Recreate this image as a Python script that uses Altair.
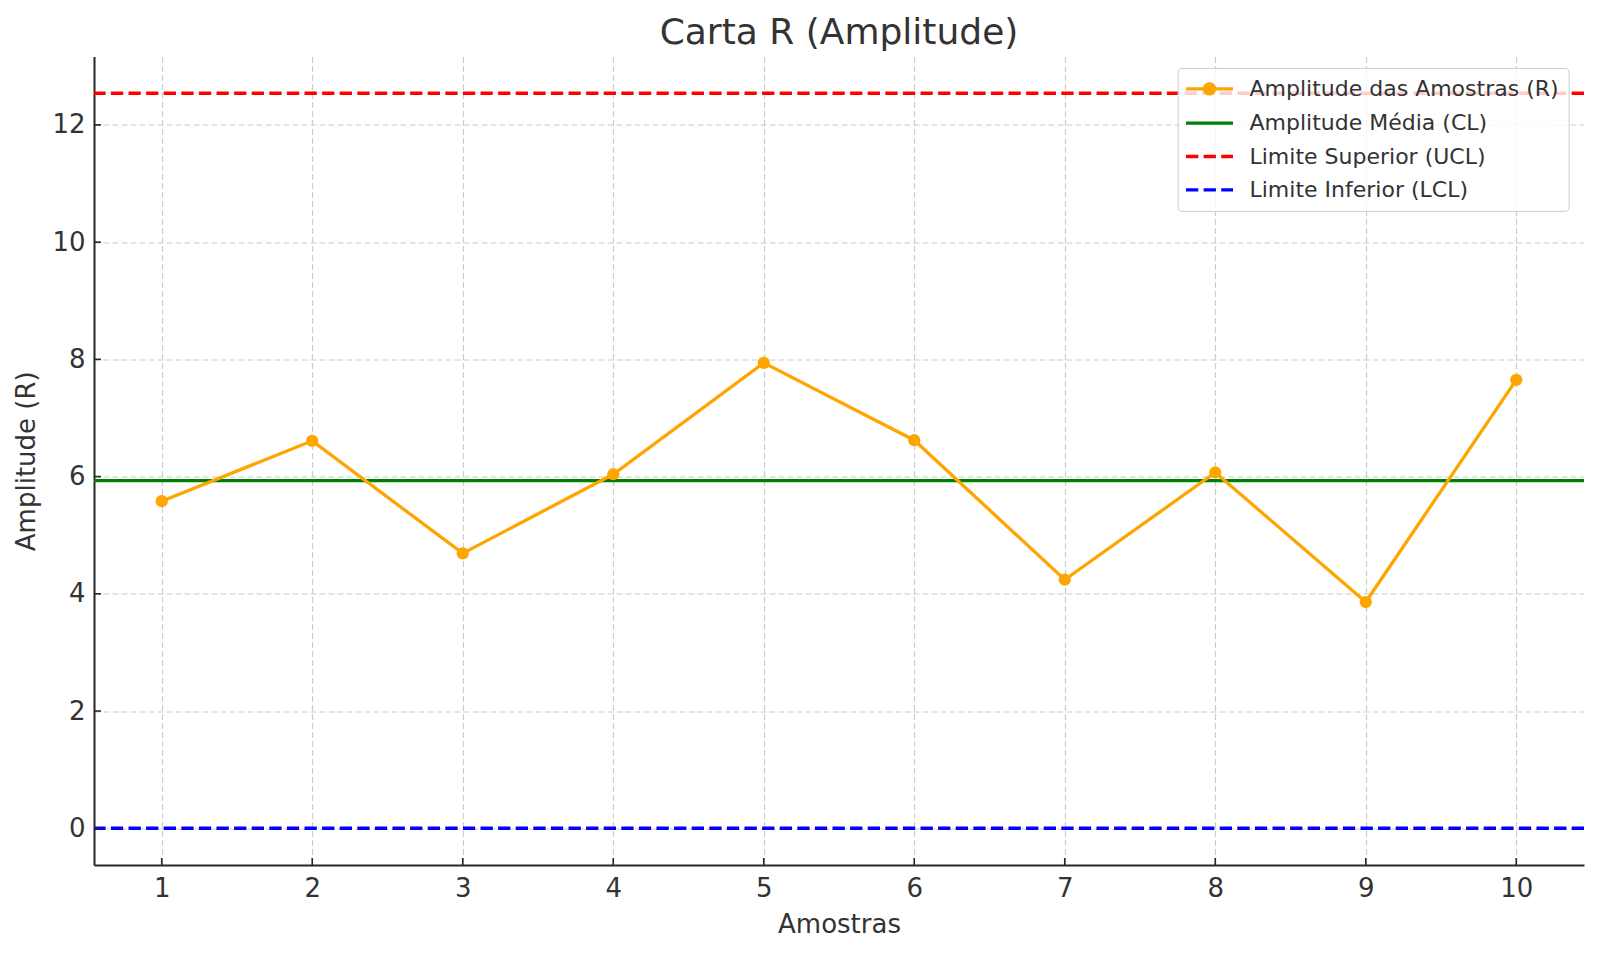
import altair as alt
import pandas as pd

# ---- data ----
amostras = [1, 2, 3, 4, 5, 6, 7, 8, 9, 10]
amplitudes = [5.58, 6.61, 4.69, 6.04, 7.94, 6.62, 4.24, 6.07, 3.86, 7.65]

serie_nomes = ["Amplitude das Amostras (R)", "Amplitude Média (CL)",
               "Limite Superior (UCL)", "Limite Inferior (LCL)"]
serie_cores = ["#FFA500", "#008000", "#FF0000", "#0000FF"]
serie_tracos = [[1, 0], [1, 0], [12.3, 5.3], [12.3, 5.3]]

limites_nomes = ["Amplitude Média (CL)", "Limite Superior (UCL)", "Limite Inferior (LCL)"]
limites_valores = [5.93, 12.54, 0.0]

y_ticks = [0, 2, 4, 6, 8, 10, 12]
x_ticks = amostras

FONT = "DejaVu Sans"
TXT = "#333333"
AX = "#262626"
W, H = 1490, 808.5

df_r = pd.DataFrame({"Amostra": amostras, "R": amplitudes})
df_lim = pd.DataFrame({"serie": limites_nomes, "valor": limites_valores})
df_yt = pd.DataFrame({"v": y_ticks})
df_xt = pd.DataFrame({"v": x_ticks})

xscale = alt.Scale(domain=[0.55, 10.45], nice=False, zero=False)
yscale = alt.Scale(domain=[-0.627, 13.167], nice=False, zero=False)

xaxis = alt.Axis(values=x_ticks, format="d", title="Amostras")
yaxis = alt.Axis(values=y_ticks, format="d", title="Amplitude (R)")

first = serie_nomes[0]
shape_expr = (f"datum.value === '{first}' ? "
              "'M-4,0H4M-0.85,0A0.85,0.85,0,1,1,0.85,0A0.85,0.85,0,1,1,-0.85,0' : 'M-4,0H4'")
fill_expr = f"datum.value === '{first}' ? '#FFA500' : 'transparent'"

legend = alt.Legend(
    title=None,
    orient="none",
    legendX=1083.6,
    legendY=11.4,
    symbolType={"expr": shape_expr},
    symbolFillColor={"expr": fill_expr},
    symbolSize=138,
    symbolStrokeWidth=3.3,
    symbolOffset=10.9,
    labelFontSize=22,
    labelFont=FONT,
    labelColor=TXT,
    labelOffset=29,
    labelLimit=0,
    rowPadding=11.3,
    padding=10,
    fillColor="rgba(255,255,255,0.8)",
    strokeColor="#cccccc",
    cornerRadius=4,
)

rules = alt.Chart(df_lim).mark_rule(strokeWidth=3.3).encode(
    y=alt.Y("valor:Q", scale=yscale, axis=yaxis),
    color=alt.Color("serie:N", scale=alt.Scale(domain=serie_nomes, range=serie_cores), legend=legend),
    strokeDash=alt.StrokeDash("serie:N", scale=alt.Scale(domain=serie_nomes, range=serie_tracos), legend=legend),
)

line = alt.Chart(df_r).mark_line(color="#FFA500", strokeWidth=3.3).encode(
    x=alt.X("Amostra:Q", scale=xscale, axis=xaxis),
    y=alt.Y("R:Q", scale=yscale, axis=yaxis),
)

points = alt.Chart(df_r).mark_point(filled=True, color="#FFA500", size=150, opacity=1, shape="circle").encode(
    x=alt.X("Amostra:Q", scale=xscale),
    y=alt.Y("R:Q", scale=yscale),
)

ytick_marks = alt.Chart(df_yt).mark_rule(color=AX, strokeWidth=1.6).encode(
    y=alt.Y("v:Q", scale=yscale),
    x=alt.value(0),
    x2=alt.value(7),
)

xtick_marks = alt.Chart(df_xt).mark_rule(color=AX, strokeWidth=1.6).encode(
    x=alt.X("v:Q", scale=xscale),
    y=alt.value(H),
    y2=alt.value(H - 7),
)

chart = alt.layer(rules, line, points, ytick_marks, xtick_marks).properties(
    width=W,
    height=H,
    title=alt.TitleParams("Carta R (Amplitude)", fontSize=36, font=FONT, color=TXT,
                          fontWeight="normal", anchor="middle", baseline="alphabetic",
                          offset=14, dy=37),
    autosize=alt.AutoSizeParams(type="none"),
    padding={"left": 94, "top": 56.5, "right": 16, "bottom": 89},
).configure_view(
    stroke=None
).configure_axis(
    labelFont=FONT,
    titleFont=FONT,
    labelFontSize=26,
    titleFontSize=26,
    labelColor=TXT,
    titleColor=TXT,
    titleFontWeight="normal",
    domainColor=AX,
    domainWidth=2,
    ticks=False,
    tickSize=0,
    grid=True,
    gridColor="#cccccc",
    gridDash=[6, 3],
    gridWidth=1.2,
).configure_axisX(
    labelPadding=10,
    titlePadding=10,
).configure_axisY(
    labelPadding=9,
    titlePadding=12,
)

chart.save("out.html", embed_options={"renderer": "svg", "actions": False})
